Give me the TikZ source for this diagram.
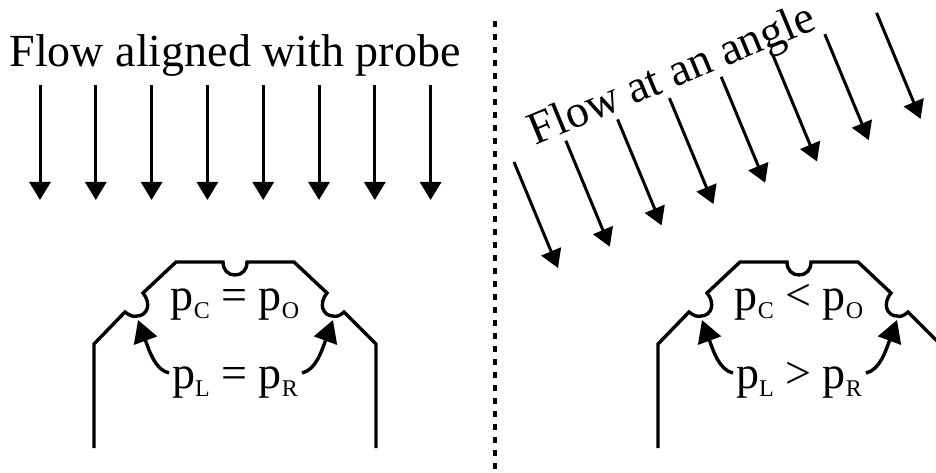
\documentclass[tikz,border=0pt]{standalone}
\usepackage{fontspec}
\setmainfont{Liberation Serif}
\usetikzlibrary{arrows.meta}
\newcommand{\psub}[1]{p\raisebox{-8.5pt}{\fontsize{24}{24}\selectfont #1}}
\tikzset{
  probe/.style={line width=3.4pt,line join=miter},
  flow/.style={-{Triangle[length=18pt,width=21pt]},line width=3pt},
  tap/.style={-{Triangle[length=22pt,width=24pt]},line width=3.4pt},
  divider/.style={line width=3.4pt,dash pattern=on 6pt off 7pt},
  heading/.style={font=\fontsize{46}{46}\selectfont,inner sep=0pt,anchor=base},
  reading/.style={font=\fontsize{46}{46}\selectfont,inner sep=0pt,anchor=base}
}
\begin{document}
\begin{tikzpicture}[x=1pt,y=-1pt]
  \useasboundingbox (0,0) rectangle (936,473);
  \coordinate (divtop) at (495,21);
  \coordinate (divbot) at (495,471);
  \draw[divider] (divtop) -- (divbot);
  \node[heading] (aligned) at (235,67) {Flow aligned with probe};
  \node[heading,rotate=22.5] (angled) at (677,87) {Flow at an angle};
  % flow arrows
  \foreach \i in {0,...,7} {
    \coordinate (a\i) at (40+55.8*\i,85);
    \coordinate (b\i) at (40+55.8*\i,200);
    \draw[flow] (a\i) -- (b\i);
    \coordinate (c\i) at (514+51.8*\i,162-21.3*\i);
    \coordinate (d\i) at (558+51.8*\i,268-21.3*\i);
    \draw[flow] (c\i) -- (d\i);
  }
  % probes
  \foreach \name/\off/\upper/\lower in {left/0/=/=,right/564/{<}/{>}} {
    \begin{scope}[xshift=\off pt]
      \draw[probe] (94,448) -- (94,344) -- (125,312)
        .. controls (130,316) and (134,317) .. (137,316)
        .. controls (147,316) and (152,304) .. (143,293)
        -- (176,262) -- (223,262)
        .. controls (223,270) and (228,275) .. (235,275)
        .. controls (242,275) and (247,270) .. (247,262)
        -- (294,262) -- (327,293)
        .. controls (318,304) and (323,316) .. (333,316)
        .. controls (336,317) and (340,316) .. (344,312)
        -- (376,344) -- (376,448);
      \node[reading] (top\name) at (235,310) {\psub{C} \upper{} \psub{O}};
      \node[reading] (bot\name) at (235,388) {\psub{L} \lower{} \psub{R}};
      \coordinate (tapL\name) at (138,320);
      \coordinate (tapR\name) at (333,320);
      \coordinate (fromL\name) at (169,373);
      \coordinate (fromR\name) at (302,373);
      \draw[tap] (fromL\name) .. controls (155,370) and (149,350) .. (tapL\name);
      \draw[tap] (fromR\name) .. controls (316,370) and (322,350) .. (tapR\name);
    \end{scope}
  }
\end{tikzpicture}
\end{document}
